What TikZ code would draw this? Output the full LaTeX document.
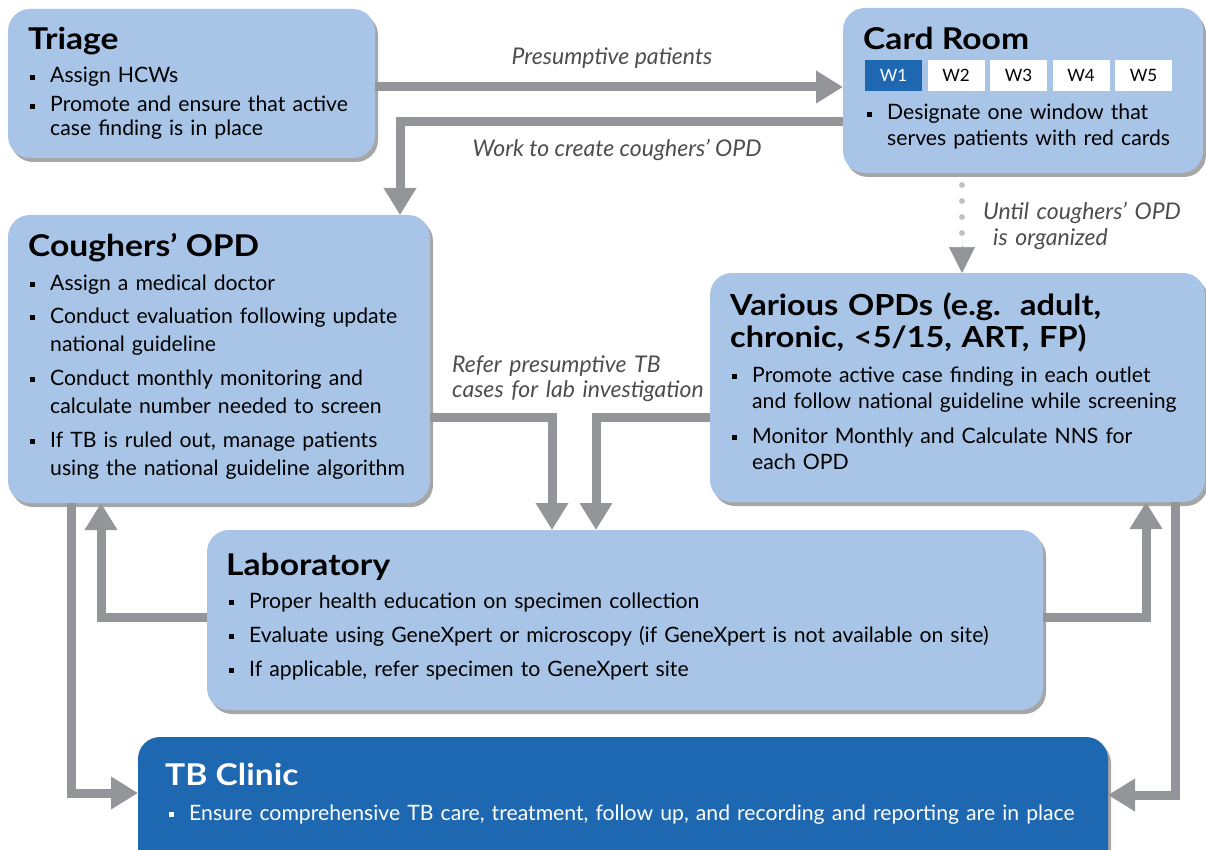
\documentclass[tikz,border=0pt]{standalone}
\usepackage{fontspec}
\setmainfont{Lato}
\newfontfamily\ttlfont{Lato}[FakeStretch=1.12]
\usetikzlibrary{arrows.meta,shadows}
\definecolor{boxblue}{HTML}{A8C4E6}
\definecolor{darkblue}{HTML}{1E68B2}
\definecolor{arrgray}{HTML}{939598}
\definecolor{dotgray}{HTML}{C2C2C2}
\definecolor{labgray}{HTML}{4D4D4F}
\newcommand{\bul}{\makebox[0pt][r]{\rule[3pt]{5pt}{5pt}\hspace{15pt}}}
\begin{document}
\begin{tikzpicture}[x=1pt,y=-1pt,
  box/.style={rectangle, rounded corners=22pt, fill=boxblue, draw=none, anchor=north west,
    inner sep=0pt, outer sep=0pt,
    drop shadow={shadow xshift=3pt, shadow yshift=-4pt, fill=black, opacity=0.35}},
  darkbox/.style={box, fill=darkblue},
  ttl/.style={anchor=base west, inner sep=0pt, font=\ttlfont\fontsize{30}{32}\selectfont\bfseries},
  itemA/.style={anchor=base west, inner sep=0pt, text width=520pt, align=left,
    font=\fontsize{21.2}{23.5}\selectfont},
  itemB/.style={anchor=base west, inner sep=0pt, text width=520pt, align=left,
    font=\fontsize{21.2}{28.5}\selectfont},
  itemC/.style={anchor=base west, inner sep=0pt, text width=520pt, align=left,
    font=\fontsize{21.2}{26}\selectfont},
  win/.style={rectangle, minimum width=57pt, minimum height=31pt, inner sep=0pt,
    fill=white, font=\fontsize{17}{17}\selectfont},
  lbl/.style={inner sep=0pt, text=labgray, font=\fontsize{23}{25}\selectfont\itshape},
  arr/.style={draw=arrgray, line width=9pt, -{Triangle[width=31pt,length=27pt]}},
  headonly/.style={draw=arrgray, line width=0.5pt, -{Triangle[width=26pt,length=26pt]}},
  dotline/.style={draw=dotgray, line width=6pt, line cap=round, dash pattern=on 0pt off 16pt}
]
\useasboundingbox (0,0) rectangle (1206,850);

% ---------- boxes ----------
\node[box, minimum width=367pt, minimum height=149pt] (triage) at (8,9) {};
\node[box, minimum width=360pt, minimum height=165pt] (card) at (843,8) {};
\node[box, minimum width=422pt, minimum height=288pt] (coughers) at (8,215) {};
\node[box, minimum width=495pt, minimum height=229pt] (various) at (710,273) {};
\node[box, minimum width=836pt, minimum height=180pt] (lab) at (207,530) {};
\node[darkbox, minimum width=970pt, minimum height=140pt] (tbc) at (138,737) {};

% ---------- Triage ----------
\node[ttl] (triageT) at (28,50) {Triage};
\node[itemA] (triage1) at (50,83) {\bul Assign HCWs};
\node[itemA] (triage2) at (50,112) {\bul Promote and ensure that active\\case finding is in place};

% ---------- Card room ----------
\node[ttl] (cardT) at (863,50) {Card Room};
\node[win, fill=darkblue, text=white] (w1) at (893.5,75.5) {W1};
\node[win] (w2) at (956,75.5) {W2};
\node[win] (w3) at (1018.5,75.5) {W3};
\node[win] (w4) at (1081,75.5) {W4};
\node[win] (w5) at (1143.5,75.5) {W5};
\node[itemC] (card1) at (887,120) {\bul Designate one window that\\serves patients with red cards};

% ---------- Coughers ----------
\node[ttl] (cougT) at (28,256) {Coughers’ OPD};
\node[itemB] (coug1) at (50,290) {\bul Assign a medical doctor};
\node[itemB] (coug2) at (50,323) {\bul Conduct evaluation following update\\national guideline};
\node[itemB] (coug3) at (50,385) {\bul Conduct monthly monitoring and\\calculate number needed to screen};
\node[itemB] (coug4) at (50,447) {\bul If TB is ruled out, manage patients\\using the national guideline algorithm};

% ---------- Various ----------
\node[anchor=base west, inner sep=0pt, text width=480pt, align=left,
  font=\ttlfont\fontsize{29}{32}\selectfont\bfseries] (varT) at (730,315) {Various OPDs (e.g.\ \ adult,\\chronic, <5/15, ART, FP)};
\node[itemC] (var1) at (752,382) {\bul Promote active case finding in each outlet\\and follow national guideline while screening};
\node[itemC] (var2) at (752,443) {\bul Monitor Monthly and Calculate NNS for\\each OPD};

% ---------- Laboratory ----------
\node[ttl] (labT) at (226,575) {Laboratory};
\node[itemA] (lab1) at (249,608) {\bul Proper health education on specimen collection};
\node[itemA, text width=800pt] (lab2) at (249,642) {\bul Evaluate using GeneXpert or microscopy (if GeneXpert is not available on site)};
\node[itemA] (lab3) at (249,676) {\bul If applicable, refer specimen to GeneXpert site};

% ---------- TB clinic ----------
\node[ttl, text=white] (tbcT) at (165,785) {TB Clinic};
\node[itemA, text=white, text width=920pt] (tbc1) at (189,820) {\bul Ensure comprehensive TB care, treatment, follow up, and recording and reporting are in place};

% ---------- connector labels ----------
\node[lbl, anchor=base] (lpres) at (612,65) {Presumptive patients};
\node[lbl, anchor=base] (lwork) at (617,157) {Work to create coughers’ OPD};
\node[lbl, anchor=base west, text width=300pt, align=left] (lrefer) at (452,372) {Refer presumptive TB\\cases for lab investigation};
\node[lbl, anchor=base west, text width=220pt, align=left] (luntil) at (983,220) {Until coughers’ OPD\\\hspace*{10pt}is organized};

% ---------- connectors ----------
\coordinate (yA) at (0,87);
\draw[arr] (triage.east |- yA) -- (card.west |- yA);

\coordinate (bW) at (400,122);
\draw[arr] (card.west |- bW) -- (bW) -- (coughers.north -| bW);

\coordinate (dTop) at (962,185);
\coordinate (dBot) at (962,234);
\coordinate (dHead) at (962,246);
\draw[dotline] (dTop) -- (dBot);
\draw[headonly] (dHead) -- (various.north -| dHead);

\coordinate (bL) at (552,417);
\draw[arr] (coughers.east |- bL) -- (bL) -- (lab.north -| bL);
\coordinate (bR) at (596,417);
\draw[arr] (various.west |- bR) -- (bR) -- (lab.north -| bR);

\coordinate (bLL) at (101,617);
\draw[arr] (lab.west |- bLL) -- (bLL) -- (coughers.south -| bLL);
\coordinate (bRR) at (1146,617);
\draw[arr] (lab.east |- bRR) -- (bRR) -- (various.south -| bRR);

\coordinate (bTL) at (71,793);
\draw[arr] (coughers.south -| bTL) -- (bTL) -- (tbc.west |- bTL);
\coordinate (bTR) at (1175,795);
\draw[arr] (various.south -| bTR) -- (bTR) -- (tbc.east |- bTR);
\end{tikzpicture}
\end{document}
